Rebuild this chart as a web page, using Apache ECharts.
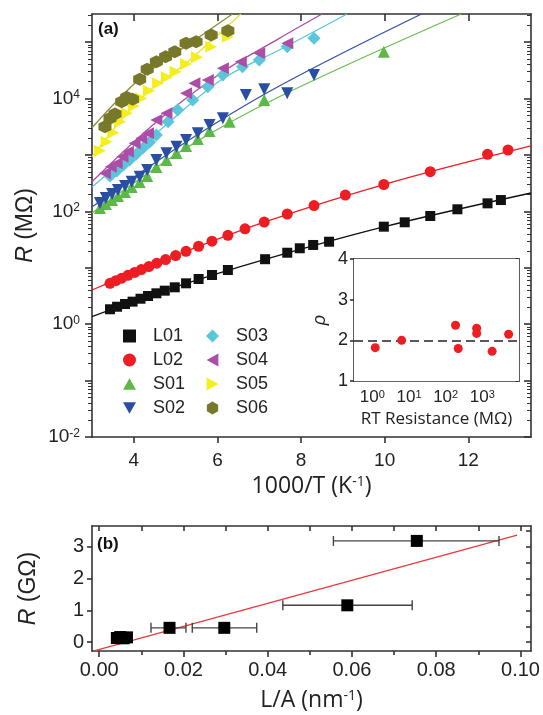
<!DOCTYPE html>
<html>
<head>
<meta charset="utf-8">
<script src="https://cdn.jsdelivr.net/npm/echarts@6/dist/echarts.min.js"></script>
<style>
html, body { margin: 0; padding: 0; background: #fff; }
#chart { width: 543px; height: 715px; }
</style>
</head>
<body>
<div id="chart"></div>
<script>
// panel (a): 1000/T (K^-1) vs R (MOhm)
const l01X = [3.43, 3.60, 3.79, 3.97, 4.16, 4.34, 4.54, 4.74, 4.98, 5.25, 5.55, 5.87, 6.25, 7.14, 7.67, 7.97, 8.29, 8.67, 9.98, 10.48, 11.09, 11.74, 12.46, 12.78];
const l01R = [1.84, 2.04, 2.28, 2.51, 2.83, 3.16, 3.53, 3.93, 4.51, 5.31, 6.33, 7.45, 9.14, 14.2, 18.5, 22.2, 25.4, 29.0, 53.6, 64.1, 82.8, 109, 139, 159];
const l02X = [3.43, 3.57, 3.71, 3.86, 4.02, 4.18, 4.36, 4.55, 4.76, 5.00, 5.25, 5.55, 5.87, 6.25, 6.66, 7.12, 7.67, 8.31, 9.06, 9.98, 11.09, 12.46, 12.95];
const l02R = [5.31, 5.90, 6.54, 7.36, 8.26, 9.29, 10.5, 12.1, 14.0, 16.5, 19.6, 24.1, 29.6, 37.7, 49.0, 64.6, 89.9, 127, 195, 300, 506, 1028, 1227];
const s01X = [3.19, 3.33, 3.48, 3.62, 3.79, 3.95, 4.14, 4.32, 4.54, 4.78, 5.02, 5.25, 5.53, 5.81, 6.29, 7.12, 9.98];
const s01R = [115, 135, 159, 188, 221, 271, 332, 425, 613, 813, 1083, 1445, 1923, 2667, 3894, 9440, 67900];
const s02X = [3.19, 3.33, 3.48, 3.62, 3.79, 3.95, 4.14, 4.32, 4.54, 4.78, 5.02, 5.25, 5.53, 5.81, 6.13, 6.68, 7.12, 7.67, 8.31];
const s02R = [141, 173, 204, 240, 282, 336, 412, 542, 815, 1071, 1403, 1845, 2427, 3404, 4477, 11600, 14600, 12400, 26200];
const s03X = [3.43, 3.59, 3.75, 3.90, 4.06, 4.22, 4.38, 4.54, 4.82, 5.05, 5.41, 5.77, 6.13, 6.60, 7.00, 7.67, 8.31];
const s03R = [425, 520, 665, 815, 1042, 1330, 1700, 2263, 3894, 6280, 9440, 16250, 26200, 36800, 48300, 83200, 117000];
const s04X = [3.31, 3.45, 3.59, 3.73, 3.86, 4.02, 4.18, 4.34, 4.54, 4.78, 5.25, 5.45, 5.77, 6.13, 6.56, 7.00, 7.67];
const s04R = [474, 621, 713, 934, 1146, 1612, 1977, 2427, 4178, 5486, 12400, 18700, 21400, 34400, 45100, 63500, 95500];
const s05X = [3.19, 3.35, 3.51, 3.67, 3.83, 4.00, 4.18, 4.36, 4.58, 4.79, 5.00, 5.25, 5.51, 5.85, 6.25];
const s05R = [1191, 1722, 2483, 3894, 5486, 7390, 10100, 13800, 18700, 23900, 30000, 41000, 53900, 83200, 125000];
const s06X = [3.31, 3.43, 3.55, 3.71, 3.83, 3.97, 4.14, 4.32, 4.54, 4.76, 4.98, 5.25, 5.49, 5.85, 6.25];
const s06R = [3177, 4477, 5333, 8810, 10540, 9720, 22000, 33100, 45100, 55300, 67900, 95500, 102000, 134000, 160000];

// fitted curves
const fitL01X = [3, 5, 7.14, 10, 13.5];
const fitL01R = [1.36, 4.57, 14.1, 53.7, 212];
const fitL02X = [3, 5, 7.12, 10, 13.5];
const fitL02R = [4.04, 16.6, 64.6, 302, 1445];
const fitS01X = [3, 5.25, 7.48, 11.83];
const fitS01R = [93.7, 1330, 10800, 316000];
const fitS02X = [3, 5.25, 7.48, 10.88];
const fitS02R = [120, 1700, 16700, 316000];
const fitS03X = [3, 4.54, 6.12, 7.48, 9.10];
const fitS03R = [271, 2455, 22300, 72800, 316000];
const fitS04X = [3, 4.54, 6.12, 7.48, 8.50];
const fitS04R = [336, 3846, 29600, 117000, 316000];
const fitS05X = [3, 4.18, 5.25, 6.56];
const fitS05R = [933, 10260, 42800, 316000];
const fitS06X = [3, 4.14, 5.25, 6.36];
const fitS06R = [3048, 22300, 85700, 316000];

// inset: RT resistance (MOhm) vs exponent p
const rtR = [1.2, 6.3, 186, 220, 700, 700, 1850, 5200];
const rtP = [1.82, 2.0, 2.37, 1.80, 2.30, 2.17, 1.73, 2.15];

// panel (b): L/A (nm^-1) vs R (GOhm) with x error bars
const laX = [0.0754, 0.0589, 0.0297, 0.0167, 0.0042, 0.0050, 0.0058, 0.0066];
const laR = [3.19, 1.16, 0.45, 0.45, 0.13, 0.16, 0.12, 0.15];
const laLo = [0.0556, 0.0436, 0.0221, 0.0123, 0.0035, 0.0042, 0.0048, 0.0055];
const laHi = [0.0949, 0.0743, 0.0374, 0.0206, 0.0055, 0.0062, 0.0072, 0.0078];
const fitBX = [-0.001, 0.0992];
const fitBR = [-0.27, 3.37];

const xTicksA = [4, 6, 8, 10, 12];
const yDecadesA = [-2, -1, 0, 1, 2, 3, 4, 5];
const yLabelsA = [-2, 0, 2, 4];
const insetDecades = [0, 1, 2, 3];
const xTicksB = [0, 0.02, 0.04, 0.06, 0.08, 0.10];
const yTicksB = [0, 1, 2, 3];

const lg = v => Math.log10(v);
const pts = (xs, rs) => xs.map((x, i) => [x, lg(rs[i])]);

// log minor tick positions (2..9 x 10^n)
function logMinors(from, to) {
  const out = [];
  for (let n = from; n < to; n++) {
    for (let k = 2; k <= 9; k++) out.push(n + lg(k));
  }
  return out;
}
const yMinorsA = logMinors(-2, 6).filter(v => v < 5.5);
const insetMinors = logMinors(-1, 4).filter(v => v > -0.5 && v < 4);

const axisColor = '#333';
const tickFont = 'Liberation Sans';
const nameFont = 'Open Sans';

function supFmt(v) {
  return '{b|10}{s|' + Math.round(v) + '}';
}

function tickAxis(opt) {
  // helper for ticks-only axes
  return Object.assign({
    type: 'value',
    axisLine: { show: false, onZero: false },
    axisLabel: { show: false },
    splitLine: { show: false }
  }, opt);
}

const chart = echarts.init(document.getElementById('chart'));

const markerBase = { type: 'scatter', xAxisIndex: 0, yAxisIndex: 0, z: 3 };
const fitBase = { type: 'line', xAxisIndex: 0, yAxisIndex: 0, showSymbol: false, smooth: 0.35, z: 2, silent: true };

// symbol shapes (paths so the legend shows the same orientation)
const hexPath = 'path://M50,0 L93.3,25 L93.3,75 L50,100 L6.7,75 L6.7,25 Z';
const triUp = 'path://M50,0 L100,90 L0,90 Z';
const triDown = 'path://M0,0 L100,0 L50,90 Z';
const triLeft = 'path://M0,50 L90,0 L90,100 Z';
const triRight = 'path://M0,0 L90,50 L0,100 Z';

const samples = [
  { name: 'L01', x: l01X, r: l01R, color: '#111111', symbol: 'rect', size: 10 },
  { name: 'L02', x: l02X, r: l02R, color: '#ee1d23', symbol: 'circle', size: 11 },
  { name: 'S01', x: s01X, r: s01R, color: '#5db947', symbol: triUp, size: 12 },
  { name: 'S02', x: s02X, r: s02R, color: '#2a4ea2', symbol: triDown, size: 12 },
  { name: 'S03', x: s03X, r: s03R, color: '#5ac6dc', symbol: 'diamond', size: 13 },
  { name: 'S04', x: s04X, r: s04R, color: '#ac4ea8', symbol: triLeft, size: 12 },
  { name: 'S05', x: s05X, r: s05R, color: '#f4ee1c', symbol: triRight, size: 12 },
  { name: 'S06', x: s06X, r: s06R, color: '#77782a', symbol: hexPath, size: 13 }
];
const fits = [
  { x: fitL01X, r: fitL01R, color: '#111111' },
  { x: fitL02X, r: fitL02R, color: '#ee1d23' },
  { x: fitS01X, r: fitS01R, color: '#6cbf4e' },
  { x: fitS02X, r: fitS02R, color: '#3553a5' },
  { x: fitS03X, r: fitS03R, color: '#5ac6dc' },
  { x: fitS04X, r: fitS04R, color: '#ac4ea8' },
  { x: fitS05X, r: fitS05R, color: '#e8e41e' },
  { x: fitS06X, r: fitS06R, color: '#8c8c38' }
];

const series = [];
fits.forEach((f, i) => {
  series.push(Object.assign({}, fitBase, {
    name: 'fit' + i,
    data: pts(f.x, f.r),
    lineStyle: { color: f.color, width: 1.3 }
  }));
});
samples.forEach(s => {
  series.push(Object.assign({}, markerBase, {
    name: s.name,
    data: pts(s.x, s.r),
    symbol: s.symbol,
    symbolSize: s.size,
    itemStyle: { color: s.color, opacity: 1 }
  }));
});

// inset
series.push({
  type: 'scatter', name: 'rho', xAxisIndex: 2, yAxisIndex: 4, z: 5,
  data: rtR.map((r, i) => [lg(r), rtP[i]]),
  symbolSize: 9,
  itemStyle: { color: '#ee1d23', opacity: 1 },
  markLine: {
    silent: true, symbol: 'none', label: { show: false },
    lineStyle: { color: '#222', type: [9, 5], width: 1.5 },
    data: [{ yAxis: 2 }]
  }
});

// panel (b)
series.push({
  type: 'line', name: 'fitB', xAxisIndex: 6, yAxisIndex: 6, showSymbol: false, silent: true,
  data: fitBX.map((x, i) => [x, fitBR[i]]),
  lineStyle: { color: '#e8383d', width: 1.3 }, z: 2
});
series.push({
  type: 'custom', name: 'errB', xAxisIndex: 6, yAxisIndex: 6, z: 3, silent: true,
  data: laX.map((x, i) => [x, laR[i], laLo[i], laHi[i]]),
  renderItem: function (params, api) {
    const y = api.value(1);
    const lo = api.coord([api.value(2), y]);
    const hi = api.coord([api.value(3), y]);
    const cap = 5;
    const st = { stroke: '#444', lineWidth: 1.4 };
    return {
      type: 'group',
      children: [
        { type: 'line', shape: { x1: lo[0], y1: lo[1], x2: hi[0], y2: hi[1] }, style: st },
        { type: 'line', shape: { x1: lo[0], y1: lo[1] - cap, x2: lo[0], y2: lo[1] + cap }, style: st },
        { type: 'line', shape: { x1: hi[0], y1: hi[1] - cap, x2: hi[0], y2: hi[1] + cap }, style: st }
      ]
    };
  }
});
series.push({
  type: 'scatter', name: 'ptsB', xAxisIndex: 6, yAxisIndex: 6, z: 4,
  data: laX.map((x, i) => [x, laR[i]]),
  symbol: 'rect', symbolSize: 12,
  itemStyle: { color: '#000', opacity: 1 }
});

const lineStyleAxis = { color: axisColor, width: 1.6 };
const legendText = { fontSize: 18, fontFamily: tickFont, color: '#222', padding: [0, 0, 0, 12] };

const option = {
  animation: false,
  backgroundColor: '#fff',
  textStyle: { fontFamily: tickFont },
  grid: [
    { left: 92, top: 14, width: 439, height: 423 },
    { left: 354, top: 259, width: 165, height: 122, show: true, backgroundColor: '#fff', borderWidth: 0, z: 4 },
    { left: 92, top: 526, width: 439, height: 125 }
  ],
  legend: [
    {
      data: ['L01', 'L02', 'S01', 'S02'], orient: 'vertical', left: 118, top: 322,
      itemWidth: 13, itemHeight: 13, itemGap: 6, textStyle: legendText
    },
    {
      data: ['S03', 'S04', 'S05', 'S06'], orient: 'vertical', left: 201, top: 322,
      itemWidth: 13, itemHeight: 13, itemGap: 6, textStyle: legendText
    }
  ],
  graphic: [
    { type: 'text', left: 98, top: 21, z: 10, style: { text: '(a)', font: 'bold 17px "Liberation Sans"', fill: '#111' } },
    { type: 'text', left: 97, top: 536, z: 10, style: { text: '(b)', font: 'bold 17px "Liberation Sans"', fill: '#111' } }
  ],
  xAxis: [
    // 0 main bottom
    {
      type: 'value', gridIndex: 0, position: 'bottom', min: 3, max: 13.5,
      axisLine: { onZero: false, lineStyle: lineStyleAxis },
      axisTick: { customValues: xTicksA, length: 6, lineStyle: lineStyleAxis },
      axisLabel: { customValues: xTicksA, fontSize: 19, fontFamily: tickFont, color: '#222', margin: 14 },
      splitLine: { show: false },
      name: '1000/T (K{s|-1})', nameLocation: 'middle', nameGap: 37,
      nameTextStyle: {
        fontSize: 23, fontFamily: nameFont, color: '#222',
        rich: { s: { fontSize: 14, fontFamily: nameFont, color: '#222', verticalAlign: 'top' } }
      }
    },
    // 1 main top
    tickAxis({
      gridIndex: 0, position: 'top', min: 3, max: 13.5,
      axisLine: { show: true, onZero: false, lineStyle: lineStyleAxis },
      axisTick: { customValues: xTicksA, inside: true, length: 7, lineStyle: lineStyleAxis }
    }),
    // 2 inset bottom
    {
      type: 'value', gridIndex: 1, position: 'bottom', min: -0.5, max: 4,
      axisLine: { onZero: false, lineStyle: lineStyleAxis },
      axisTick: { customValues: insetDecades, inside: true, length: 5, lineStyle: lineStyleAxis },
      axisLabel: {
        customValues: insetDecades, formatter: supFmt, margin: 8,
        rich: {
          b: { fontSize: 17, color: '#222', fontFamily: tickFont },
          s: { fontSize: 11, color: '#222', fontFamily: tickFont, verticalAlign: 'top' }
        }
      },
      splitLine: { show: false },
      name: 'RT Resistance (MΩ)', nameLocation: 'middle', nameGap: 30,
      nameTextStyle: { fontSize: 17, fontFamily: nameFont, color: '#222' }
    },
    // 3 inset bottom minors
    tickAxis({
      gridIndex: 1, position: 'bottom', min: -0.5, max: 4,
      axisTick: { customValues: insetMinors, inside: true, length: 3, lineStyle: { color: axisColor, width: 1 } }
    }),
    // 4 inset top
    tickAxis({
      gridIndex: 1, position: 'top', min: -0.5, max: 4,
      axisLine: { show: true, onZero: false, lineStyle: lineStyleAxis },
      axisTick: { customValues: insetDecades, inside: true, length: 5, lineStyle: lineStyleAxis }
    }),
    // 5 inset top minors
    tickAxis({
      gridIndex: 1, position: 'top', min: -0.5, max: 4,
      axisTick: { customValues: insetMinors, inside: true, length: 3, lineStyle: { color: axisColor, width: 1 } }
    }),
    // 6 panel b bottom
    {
      type: 'value', gridIndex: 2, position: 'bottom', min: -0.0017, max: 0.1025,
      axisLine: { onZero: false, lineStyle: lineStyleAxis },
      axisTick: { customValues: xTicksB, length: 6, lineStyle: lineStyleAxis },
      axisLabel: {
        customValues: xTicksB, fontSize: 20, fontFamily: tickFont, color: '#222', margin: 9,
        formatter: v => v.toFixed(2)
      },
      splitLine: { show: false },
      name: 'L/A (nm{s|-1})', nameLocation: 'middle', nameGap: 38,
      nameTextStyle: {
        fontSize: 23, fontFamily: nameFont, color: '#222',
        rich: { s: { fontSize: 14, fontFamily: nameFont, color: '#222', verticalAlign: 'top' } }
      }
    },
    // 7 panel b bottom minors
    tickAxis({
      gridIndex: 2, position: 'bottom', min: -0.0017, max: 0.1025,
      axisTick: { customValues: [0.01, 0.03, 0.05, 0.07, 0.09], length: 4, lineStyle: lineStyleAxis }
    }),
    // 8 panel b top
    tickAxis({
      gridIndex: 2, position: 'top', min: -0.0017, max: 0.1025,
      axisLine: { show: true, onZero: false, lineStyle: lineStyleAxis },
      axisTick: { customValues: [0, 0.01, 0.02, 0.03, 0.04, 0.05, 0.06, 0.07, 0.08, 0.09, 0.10], inside: true, length: 5, lineStyle: lineStyleAxis }
    })
  ],
  yAxis: [
    // 0 main left
    {
      type: 'value', gridIndex: 0, position: 'left', min: -2, max: 5.5,
      axisLine: { onZero: false, lineStyle: lineStyleAxis },
      axisTick: { customValues: yDecadesA, length: 7, lineStyle: lineStyleAxis },
      axisLabel: {
        customValues: yLabelsA, formatter: supFmt, margin: 12,
        rich: {
          b: { fontSize: 19, color: '#222', fontFamily: tickFont },
          s: { fontSize: 12, color: '#222', fontFamily: tickFont, verticalAlign: 'top' }
        }
      },
      splitLine: { show: false },
      name: '{i|R} (MΩ)', nameLocation: 'middle', nameGap: 53,
      nameTextStyle: {
        fontSize: 23, color: '#222', fontFamily: tickFont,
        rich: { i: { fontSize: 23, fontStyle: 'italic', color: '#222', fontFamily: tickFont } }
      }
    },
    // 1 main left minors
    tickAxis({
      gridIndex: 0, position: 'left', min: -2, max: 5.5,
      axisTick: { customValues: yMinorsA, length: 4, lineStyle: { color: axisColor, width: 1 } }
    }),
    // 2 main right
    tickAxis({
      gridIndex: 0, position: 'right', min: -2, max: 5.5,
      axisLine: { show: true, onZero: false, lineStyle: lineStyleAxis },
      axisTick: { customValues: yDecadesA, inside: true, length: 7, lineStyle: lineStyleAxis }
    }),
    // 3 main right minors
    tickAxis({
      gridIndex: 0, position: 'right', min: -2, max: 5.5,
      axisTick: { customValues: yMinorsA, inside: true, length: 4, lineStyle: { color: axisColor, width: 1 } }
    }),
    // 4 inset left
    {
      type: 'value', gridIndex: 1, position: 'left', min: 1, max: 4, interval: 1,
      axisLine: { onZero: false, lineStyle: lineStyleAxis },
      axisTick: { length: 4, lineStyle: lineStyleAxis },
      axisLabel: { fontSize: 18, fontFamily: tickFont, color: '#222', margin: 6 },
      splitLine: { show: false },
      name: '{i|ρ}', nameLocation: 'middle', nameGap: 25,
      nameTextStyle: { rich: { i: { fontSize: 18, fontStyle: 'italic', color: '#222', fontFamily: tickFont } } }
    },
    // 5 inset right
    tickAxis({
      gridIndex: 1, position: 'right', min: 1, max: 4, interval: 0.5,
      axisLine: { show: true, onZero: false, lineStyle: lineStyleAxis },
      axisTick: { inside: true, length: 4, lineStyle: lineStyleAxis }
    }),
    // 6 panel b left
    {
      type: 'value', gridIndex: 2, position: 'left', min: -0.28, max: 3.66,
      axisLine: { onZero: false, lineStyle: lineStyleAxis },
      axisTick: { customValues: yTicksB, length: 5, lineStyle: lineStyleAxis },
      axisLabel: { customValues: yTicksB, fontSize: 20, fontFamily: tickFont, color: '#222', margin: 8 },
      splitLine: { show: false },
      name: '{i|R} (GΩ)', nameLocation: 'middle', nameGap: 52,
      nameTextStyle: {
        fontSize: 23, color: '#222', fontFamily: tickFont,
        rich: { i: { fontSize: 23, fontStyle: 'italic', color: '#222', fontFamily: tickFont } }
      }
    },
    // 7 panel b right
    tickAxis({
      gridIndex: 2, position: 'right', min: -0.28, max: 3.66,
      axisLine: { show: true, onZero: false, lineStyle: lineStyleAxis },
      axisTick: { customValues: [0, 0.5, 1, 1.5, 2, 2.5, 3, 3.5], inside: true, length: 5, lineStyle: lineStyleAxis }
    })
  ],
  series: series
};

chart.setOption(option);
</script>
</body>
</html>
